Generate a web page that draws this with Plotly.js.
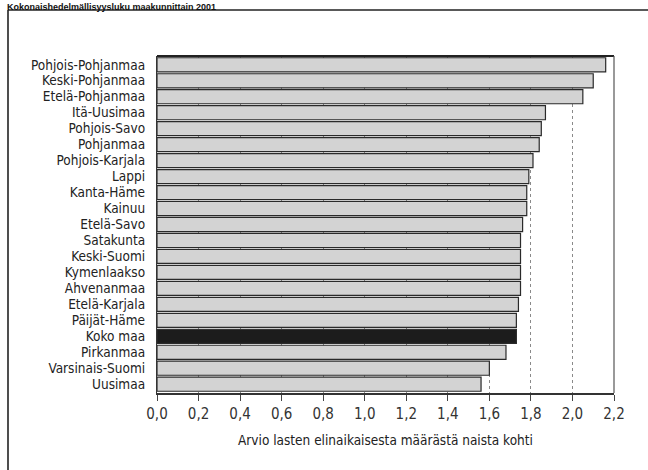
<!DOCTYPE html>
<html>
<head>
<meta charset="utf-8">
<script src="https://cdn.plot.ly/plotly-3.0.1.min.js"></script>
<style>
  html, body { margin: 0; padding: 0; background: #ffffff; }
  #chart { width: 648px; height: 470px; }
</style>
</head>
<body>
<div id="chart"></div>
<script>
// Data (total fertility rate by region, 2001)
const regions = [
  "Pohjois-Pohjanmaa", "Keski-Pohjanmaa", "Etelä-Pohjanmaa", "Itä-Uusimaa",
  "Pohjois-Savo", "Pohjanmaa", "Pohjois-Karjala", "Lappi", "Kanta-Häme",
  "Kainuu", "Etelä-Savo", "Satakunta", "Keski-Suomi", "Kymenlaakso",
  "Ahvenanmaa", "Etelä-Karjala", "Päijät-Häme", "Koko maa", "Pirkanmaa",
  "Varsinais-Suomi", "Uusimaa"
];
const fertility = [
  2.16, 2.10, 2.05, 1.87,
  1.85, 1.84, 1.81, 1.79, 1.78,
  1.78, 1.76, 1.75, 1.75, 1.75,
  1.75, 1.74, 1.73, 1.73, 1.68,
  1.60, 1.56
];
const highlight = "Koko maa";
const xTicks = [0, 0.2, 0.4, 0.6, 0.8, 1.0, 1.2, 1.4, 1.6, 1.8, 2.0, 2.2];

const titleText = "Kokonaishedelmällisyysluku maakunnittain 2001";
const xTitle = "Arvio lasten elinaikaisesta määrästä naista kohti";

const font = '"Liberation Sans Narrow", "DejaVu Sans Condensed", "Liberation Sans", sans-serif';

const colors = regions.map(r => r === highlight ? "#1c1c1c" : "#d3d3d3");

const trace = {
  type: "bar",
  orientation: "h",
  x: fertility,
  y: regions,
  marker: {
    color: colors,
    line: { color: "#2a2a2a", width: 1.2 }
  },
  hoverinfo: "x+y"
};

// plot area geometry (pixels) for frame shapes
const L = 157, R = 34, T = 56, B = 77, W = 648, H = 470;
const pw = W - L - R, ph = H - T - B;
const px = v => (v - L) / pw;
const py = v => (H - B - v) / ph;

const layout = {
  width: W,
  height: H,
  margin: { l: L, r: R, t: T, b: B, pad: 0 },
  paper_bgcolor: "#ffffff",
  plot_bgcolor: "#ffffff",
  separators: ", ",
  font: { family: font, color: "#222222", size: 13.5 },
  showlegend: false,
  bargap: 0.12,
  xaxis: {
    range: [0, 2.2],
    tickmode: "array",
    tickvals: xTicks,
    tickformat: ".1f",
    ticks: "outside",
    ticklen: 6,
    tickcolor: "#444444",
    tickfont: { family: font, size: 15, color: "#333333" },
    showgrid: true,
    gridcolor: "#8a8a8a",
    griddash: "dot",
    gridwidth: 1,
    zeroline: false,
    showline: true,
    linecolor: "#333333",
    linewidth: 1.5,
    mirror: false,
    title: { text: xTitle, font: { family: font, size: 13.5, color: "#222222" }, standoff: 14 }
  },
  yaxis: {
    type: "category",
    range: [20.55, -0.55],
    tickmode: "array",
    tickvals: regions,
    ticktext: regions,
    ticks: "",
    showgrid: false,
    zeroline: false,
    showline: true,
    linecolor: "#333333",
    linewidth: 1.2,
    ticklabelstandoff: 8,
    tickfont: { family: font, size: 13.5, color: "#222222" }
  },
  shapes: [
    // top border of plot box (thick)
    { type: "line", xref: "paper", yref: "paper", x0: 0, x1: 1, y0: 1, y1: 1,
      line: { color: "#222222", width: 2 } },
    // right border of plot box
    { type: "line", xref: "paper", yref: "paper", x0: 1, x1: 1, y0: 0, y1: 1,
      line: { color: "#555555", width: 1.2 } },
    // outer frame: left and top lines
    { type: "line", xref: "paper", yref: "paper", x0: px(8), x1: px(8), y0: py(10), y1: py(475),
      line: { color: "#222222", width: 1.6 } },
    { type: "line", xref: "paper", yref: "paper", x0: px(8), x1: px(652), y0: py(10), y1: py(10),
      line: { color: "#222222", width: 1.6 } }
  ],
  annotations: [
    { text: "<b>" + titleText + "</b>", xref: "paper", yref: "paper",
      x: px(5), y: py(0), xanchor: "left", yanchor: "top", showarrow: false,
      font: { family: '"Liberation Sans", Arial, sans-serif', size: 9, color: "#111111" } }
  ]
};

Plotly.newPlot("chart", [trace], layout, { displayModeBar: false, staticPlot: true });
</script>
</body>
</html>
